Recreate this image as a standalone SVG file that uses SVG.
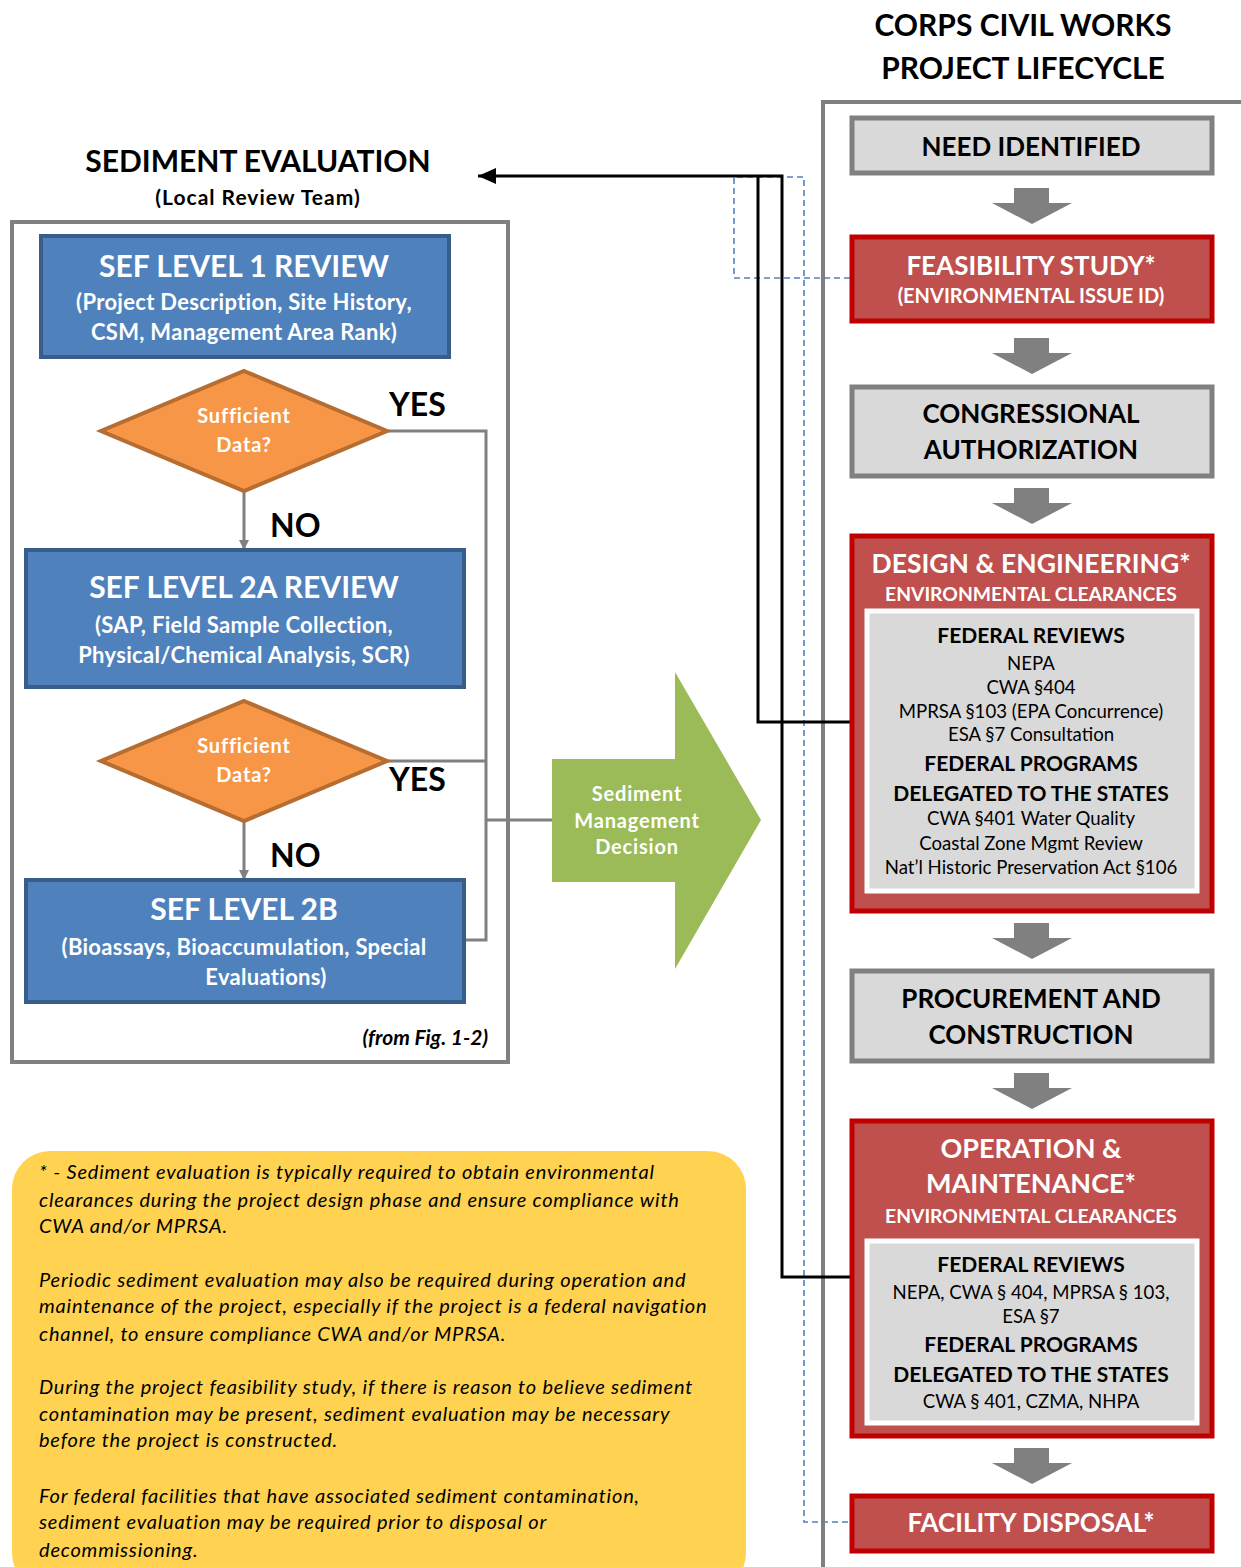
<svg xmlns="http://www.w3.org/2000/svg" width="1241" height="1567" viewBox="0 0 1241 1567">
<defs>
<style>
text{font-family:Lato,"Open Sans","Liberation Sans",sans-serif;}
.b{font-weight:bold;}
.c{text-anchor:middle;}
.w{fill:#FFFFFF;}
.k{fill:#000000;}
.sub{font-size:22px;letter-spacing:0.3px;}
.dt{font-size:20px;letter-spacing:0.8px;}
.rv{font-size:18.6px;}
.hd{font-size:21px;}
.blue{fill:#4F81BD;stroke:#385D8A;stroke-width:4;}
.dia{fill:#F79646;stroke:#B66D31;stroke-width:4;stroke-linejoin:miter;}
.gbox{fill:#D9D9D9;stroke:#808080;stroke-width:5;}
.rbox{fill:#C0504D;stroke:#C00000;stroke-width:5;}
.inner{fill:#D9D9D9;stroke:#FFFFFF;stroke-width:5;}
.gline{fill:none;stroke:#808080;stroke-width:3;}
.bline{fill:none;stroke:#000000;stroke-width:3;}
.dash{fill:none;stroke:#4F81BD;stroke-width:1.6;stroke-dasharray:6,4;}
.garrow{fill:#808080;}
.note{font-style:italic;font-size:20px;letter-spacing:0.8px;fill:#000;}
</style>
<marker id="ga" markerWidth="10" markerHeight="10" refX="8" refY="5" orient="auto" markerUnits="userSpaceOnUse">
<path d="M0,0 L10,5 L0,10 Z" fill="#808080"/>
</marker>
<marker id="ba" markerWidth="20" markerHeight="16" refX="18" refY="8" orient="auto" markerUnits="userSpaceOnUse">
<path d="M0,0 L18,8 L0,16 Z" fill="#000000"/>
</marker>
</defs>

<!-- titles -->
<g id="title-right">
<text class="b c" x="1023" y="36" font-size="30">CORPS CIVIL WORKS</text>
<text class="b c" x="1023" y="79" font-size="30">PROJECT LIFECYCLE</text>
</g>
<g id="title-left">
<text class="b c" x="258" y="172" font-size="30">SEDIMENT EVALUATION</text>
<text class="b c" x="258" y="205" font-size="21" letter-spacing="1">(Local Review Team)</text>
</g>

<!-- containers -->
<rect id="left-container" x="12" y="222" width="496" height="840" fill="#FFFFFF" stroke="#808080" stroke-width="4"/>
<rect id="right-container" x="823" y="102" width="430" height="1500" fill="#FFFFFF" stroke="#808080" stroke-width="4"/>

<!-- connectors -->
<g id="connectors">
<path class="gline" d="M387,431 H486 V940 H464"/>
<path class="gline" d="M387,761 H486"/>
<path class="gline" d="M486,820 H552"/>
<path class="gline" d="M244,491 V548" marker-end="url(#ga)"/>
<path class="gline" d="M244,821 V878" marker-end="url(#ga)"/>
<path class="dash" d="M850,278 H734 V177 H804 V1522 H850"/>
<path class="bline" d="M851,722 H758 V176"/>
<path class="bline" d="M851,1277 H782 V176 H478" marker-end="url(#ba)"/>
<path class="garrow" d="M1014,188 H1049 V203 H1072 L1032,224 L992,203 H1014 Z"/>
<path class="garrow" d="M1014,338 H1049 V353 H1072 L1032,374 L992,353 H1014 Z"/>
<path class="garrow" d="M1014,488 H1049 V503 H1072 L1032,524 L992,503 H1014 Z"/>
<path class="garrow" d="M1014,923 H1049 V938 H1072 L1032,959 L992,938 H1014 Z"/>
<path class="garrow" d="M1014,1073 H1049 V1088 H1072 L1032,1109 L992,1088 H1014 Z"/>
<path class="garrow" d="M1014,1448 H1049 V1463 H1072 L1032,1484 L992,1463 H1014 Z"/>
</g>

<!-- left flow -->
<g id="sef1">
<rect class="blue" x="41" y="236" width="408" height="121"/>
<text class="b c w" x="244" y="277" font-size="30">SEF LEVEL 1 REVIEW</text>
<text class="b c w sub" x="244" y="310">(Project Description,  Site History,</text>
<text class="b c w sub" x="244" y="340">CSM, Management  Area Rank)</text>
</g>
<g id="dia1">
<polygon class="dia" points="244,371 387,431 244,491 101,431"/>
<text class="b c w dt" x="244" y="423">Sufficient</text>
<text class="b c w dt" x="244" y="452">Data?</text>
</g>
<text id="yes1" class="b k" x="389" y="416" font-size="32">YES</text>
<text id="no1" class="b k" x="270" y="537" font-size="32">NO</text>
<g id="sef2a">
<rect class="blue" x="26" y="550" width="438" height="137"/>
<text class="b c w" x="244" y="598" font-size="30">SEF LEVEL 2A REVIEW</text>
<text class="b c w sub" x="244" y="633">(SAP, Field Sample  Collection,</text>
<text class="b c w sub" x="244" y="663">Physical/Chemical  Analysis,  SCR)</text>
</g>
<g id="dia2">
<polygon class="dia" points="244,701 387,761 244,821 101,761"/>
<text class="b c w dt" x="244" y="753">Sufficient</text>
<text class="b c w dt" x="244" y="782">Data?</text>
</g>
<text id="yes2" class="b k" x="389" y="791" font-size="32">YES</text>
<text id="no2" class="b k" x="270" y="867" font-size="32">NO</text>
<g id="sef2b">
<rect class="blue" x="26" y="880" width="438" height="122"/>
<text class="b c w" x="244" y="920" font-size="30">SEF LEVEL 2B</text>
<text class="b c w sub" x="244" y="955">(Bioassays,  Bioaccumulation,  Special</text>
<text class="b c w sub" x="266" y="985">Evaluations)</text>
</g>
<text id="from-fig" class="b" x="488" y="1045" font-size="21" font-style="italic" text-anchor="end">(from Fig. 1-2)</text>

<!-- decision arrow -->
<g id="decision">
<path d="M552,759 H675 V672 L761,820 L675,969 V882 H552 Z" fill="#9BBB59"/>
<text class="b c w dt" x="637" y="801">Sediment</text>
<text class="b c w dt" x="637" y="828">Management</text>
<text class="b c w dt" x="637" y="854">Decision</text>
</g>

<!-- right lifecycle -->
<g id="need">
<rect class="gbox" x="852" y="118" width="360" height="55"/>
<text class="b c k" x="1031" y="156" font-size="26">NEED IDENTIFIED</text>
</g>
<g id="feasibility">
<rect class="rbox" x="852" y="237" width="360" height="84"/>
<text class="b c w" x="1031" y="275" font-size="26">FEASIBILITY STUDY*</text>
<text class="b c w" x="1031" y="303" font-size="20">(ENVIRONMENTAL ISSUE ID)</text>
</g>
<g id="congress">
<rect class="gbox" x="852" y="387" width="360" height="89"/>
<text class="b c k" x="1031" y="423" font-size="26">CONGRESSIONAL</text>
<text class="b c k" x="1031" y="459" font-size="26">AUTHORIZATION</text>
</g>
<g id="design">
<rect class="rbox" x="852" y="536" width="360" height="375"/>
<text class="b c w" x="1031" y="573" font-size="26.5">DESIGN &amp; ENGINEERING*</text>
<text class="b c w" x="1031" y="601" font-size="19.3">ENVIRONMENTAL CLEARANCES</text>
<rect class="inner" x="867" y="611" width="330" height="280"/>
<text class="b c k hd" x="1031" y="643">FEDERAL  REVIEWS</text>
<text class="c k rv" x="1031" y="670">NEPA</text>
<text class="c k rv" x="1031" y="694">CWA §404</text>
<text class="c k rv" x="1031" y="718">MPRSA §103 (EPA Concurrence)</text>
<text class="c k rv" x="1031" y="741">ESA §7 Consultation</text>
<text class="b c k hd" x="1031" y="771">FEDERAL  PROGRAMS</text>
<text class="b c k hd" x="1031" y="801">DELEGATED  TO  THE  STATES</text>
<text class="c k rv" x="1031" y="825">CWA §401 Water Quality</text>
<text class="c k rv" x="1031" y="850">Coastal Zone Mgmt Review</text>
<text class="c k rv" x="1031" y="874">Nat’l Historic Preservation Act §106</text>
</g>
<g id="procurement">
<rect class="gbox" x="852" y="971" width="360" height="90"/>
<text class="b c k" x="1031" y="1008" font-size="26">PROCUREMENT AND</text>
<text class="b c k" x="1031" y="1044" font-size="26">CONSTRUCTION</text>
</g>
<g id="om">
<rect class="rbox" x="852" y="1121" width="360" height="315"/>
<text class="b c w" x="1031" y="1158" font-size="27">OPERATION &amp;</text>
<text class="b c w" x="1031" y="1193" font-size="27">MAINTENANCE*</text>
<text class="b c w" x="1031" y="1223" font-size="19.3">ENVIRONMENTAL CLEARANCES</text>
<rect class="inner" x="867" y="1241" width="330" height="182"/>
<text class="b c k hd" x="1031" y="1272">FEDERAL  REVIEWS</text>
<text class="c k rv" x="1031" y="1299">NEPA, CWA § 404, MPRSA § 103,</text>
<text class="c k rv" x="1031" y="1323">ESA §7</text>
<text class="b c k hd" x="1031" y="1352">FEDERAL  PROGRAMS</text>
<text class="b c k hd" x="1031" y="1382">DELEGATED  TO  THE  STATES</text>
<text class="c k rv" x="1031" y="1408">CWA § 401, CZMA, NHPA</text>
</g>
<g id="disposal">
<rect class="rbox" x="852" y="1496" width="360" height="55"/>
<text class="b c w" x="1031" y="1532" font-size="26">FACILITY DISPOSAL*</text>
</g>

<!-- note -->
<g id="note">
<rect x="12" y="1151" width="734" height="440" rx="38" ry="38" fill="#FFD351"/>
<text class="note" x="39" y="1179">* - Sediment evaluation is typically required to obtain environmental</text>
<text class="note" x="39" y="1207">clearances during the project design phase and ensure compliance with</text>
<text class="note" x="39" y="1233">CWA and/or MPRSA.</text>
<text class="note" x="39" y="1287">Periodic sediment evaluation may also be required during operation and</text>
<text class="note" x="39" y="1313">maintenance of the project, especially if the project is a federal navigation</text>
<text class="note" x="39" y="1341">channel, to ensure compliance CWA and/or MPRSA.</text>
<text class="note" x="39" y="1394">During the project feasibility study, if there is reason to believe sediment</text>
<text class="note" x="39" y="1421">contamination may be present, sediment evaluation may be necessary</text>
<text class="note" x="39" y="1447">before the project is constructed.</text>
<text class="note" x="39" y="1503">For federal facilities that have associated sediment contamination,</text>
<text class="note" x="39" y="1529">sediment evaluation may be required prior to disposal or</text>
<text class="note" x="39" y="1557">decommissioning.</text>
</g>
</svg>
